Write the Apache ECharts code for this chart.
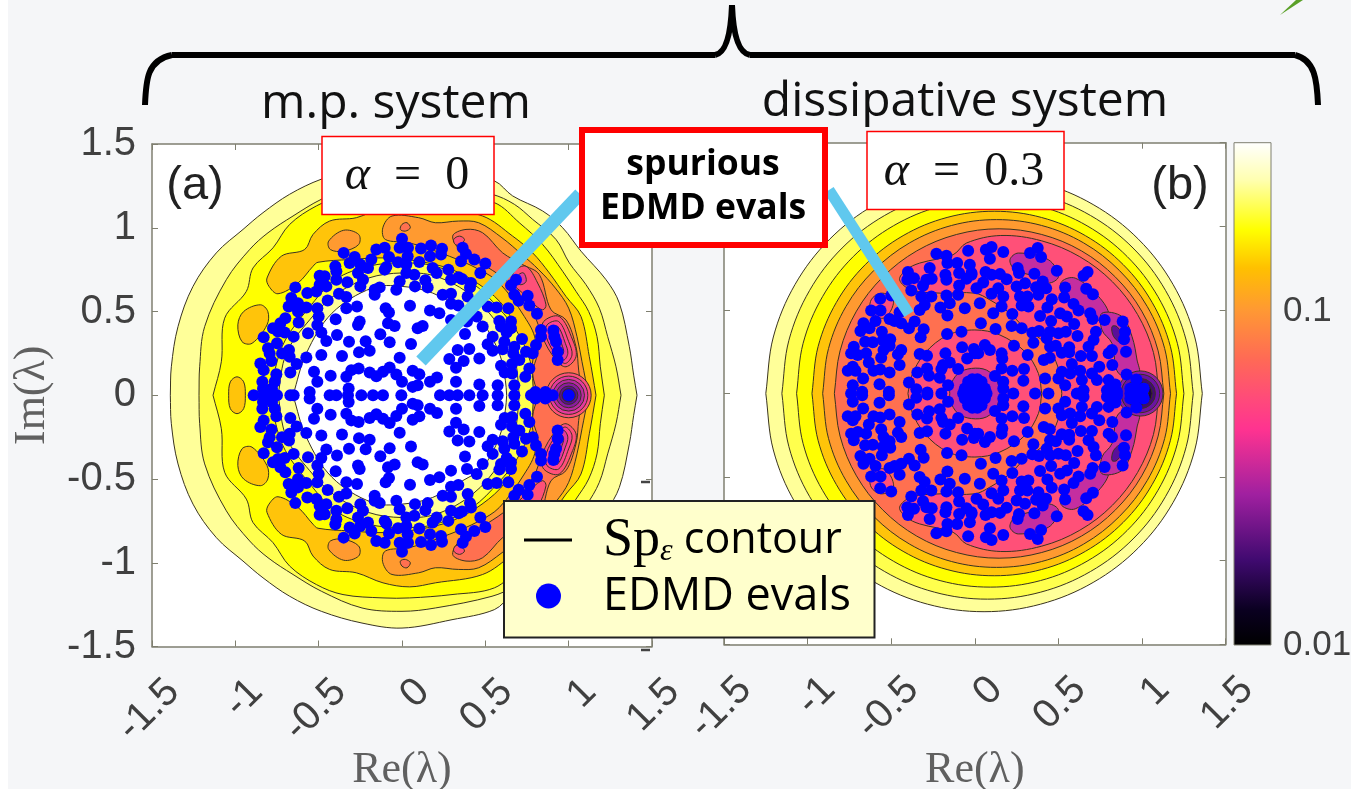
<!DOCTYPE html>
<html><head><meta charset="utf-8">
<style>html,body{margin:0;padding:0;background:linear-gradient(90deg,#fff 8px,#f5f6f8 8px);}#c{width:1351px;height:789px}</style>
<script src="https://cdn.jsdelivr.net/npm/echarts@6/dist/echarts.min.js"></script>
</head><body><div id="c"></div>
<script>
// ---------- tick labels ----------
const xTicks = [-1.5,-1,-0.5,0,0.5,1,1.5];
const colorbarTicks = [0.01,0.1];
const panelLabels = ['(a)','(b)'];
const legendLabels = ['Sp_ε contour','EDMD evals'];

// ---------- upper-half EDMD eigenvalues (conjugate pairs are added below) ----------
const evalsA = [[-.35,.85],[-.284,.826],[-.314,.79],[-.25,.78],[-.4,.77],[-.204,.76],[-.264,.73],[-.494,.714],[-.464,.71],[-.394,.74],[-.394,.69],[-.328,.674],[-.234,.69],[-.25,.65],[-.64,.644],[-.454,.65],[-.494,.66],[-.514,.62],[-.568,.61],[-.664,.58],[-.624,.55],[-.574,.524],[-.68,.53],[-.624,.5],[-.508,.52],[-.5,.47],[-.508,.42],[-.484,.374],[-.564,.37],[-.62,.434],[-.7,.46],[-.73,.43],[-.774,.4],[-.744,.38],[-.704,.374],[-.65,.35],[-.83,.346],[-.75,.31],[-.804,.28],[-.794,.25],[-.678,.27],[-.72,.25],[-.674,.23],[-.784,.204],[-.85,.19],[-.83,.15],[-.632,.186],[-.67,.136],[-.754,.126],[-.764,.08],[-.838,.08],[-.834,.04],[-.78,.04],[-.75,0],[-.79,0],[-.83,0],[-.89,0],[-.67,0],[-.65,0],
[-.378,.606],[-.334,.586],[-.446,.566],[-.334,.52],[-.27,.53],[-.398,.454],[-.254,.44],[-.264,.42],[-.39,.36],[-.318,.32],[-.454,.324],[-.218,.322],[-.13,.364],[-.098,.52],[-.078,.494],[-.084,.43],[-.044,.414],[-.074,.316],[-.258,.256],[-.194,.266],[-.014,.224],[-.574,.226],[-.484,.24],[-.36,.234],[-.528,.14],[-.508,.08],[-.428,.116],[-.334,.11],[-.304,.15],[-.26,.16],[-.194,.136],[-.154,.114],[-.114,.14],[-.074,.166],[-.034,.124],[0,.08],[-.32,.04],[-.554,.02],[-.434,0],[-.394,0],[-.324,0],[-.244,0],[-.174,0],[-.114,0],[-.004,0],
[-.154,.87],[-.104,.88],[0,.934],[-.014,.88],[.036,.88],[-.078,.826],[-.184,.81],[-.024,.794],[.026,.78],[-.094,.766],[-.104,.75],[.026,.73],[-.014,.68],[-.134,.644],[-.164,.63],[-.164,.6],[-.034,.63],
[.114,.876],[.174,.894],[.24,.874],[.234,.84],[.168,.83],[.034,.83],[.104,.796],[.364,.88],[.384,.844],[.354,.8],[.434,.81],[.5,.786],[.278,.75],[.184,.76],[.208,.73],[.47,.73],[.074,.72],[.294,.69],[.34,.704],[.36,.694],[.414,.67],[.408,.644],[.14,.686],[.154,.644],[.078,.65],[.684,.69],[.654,.656],[.674,.6],[.7,.564],[.754,.594],[.764,.536],[.81,.486],[.244,.6],[.294,.606],[.294,.546],[.338,.536],[.394,.59],[.514,.53],[.568,.524],[.638,.52],[.048,.534],[.168,.506],[.224,.49],[.448,.47],[.484,.41],[.39,.44],[.294,.45],[.124,.414],[.094,.4],[.584,.444],[.654,.44],[.594,.41],[.654,.4],[.628,.374],[.378,.366],[.544,.35],[.72,.336],[.834,.39],[.834,.35],[.908,.386],[.914,.35],[.924,.32],[.934,.26],[.934,.21],[.804,.3],[.784,.25],[.744,.26],[.614,.32],[.674,.29],[.604,.274],[.668,.25],[.704,.21],[.66,.186],[.764,.16],[.74,.11],[.594,.176],[.616,.136],[.66,.13],[.674,.06],[.574,.06],[.514,.304],[.544,.266],[.054,.306],[.404,.276],[.334,.27],[.284,.216],[.37,.204],[.324,.164],[.464,.22],[.064,.146],[.104,.126],[.21,.106],[.168,.08],[.324,.08],[.464,.064],[.064,.05],[.094,.06],[.228,0],[.284,0],[.334,0],[.404,0],[.484,0],[.574,0],[.674,0],[.774,0],[.834,0],[.904,0],[1,0],[.8,.02],[.86,.02]];

const evalsB = [[-.23,.836],[-.17,.824],[-.164,.78],[-.106,.78],[-.04,.854],[-.03,.77],[-.27,.75],[-.4,.726],[-.364,.69],[-.404,.68],[-.29,.68],[-.258,.686],[-.31,.644],[-.176,.71],[-.17,.68],[-.094,.72],[-.02,.72],[-.05,.686],[-.094,.646],[.01,.63],[-.1,.59],[-.17,.586],[-.38,.616],[-.566,.566],[-.5,.586],[-.62,.496],[-.564,.496],[-.32,.58],[-.26,.58],[-.3,.53],[-.33,.5],[-.15,.54],[-.206,.514],[-.06,.51],[-.164,.466],[-.45,.486],[-.51,.446],[-.48,.434],[-.44,.42],[-.36,.43],[-.394,.39],[-.306,.384],[-.324,.336],[-.666,.42],[-.594,.434],[-.684,.374],[-.63,.39],[-.556,.37],[-.55,.32],[-.506,.324],[-.656,.31],[-.61,.306],[-.51,.286],[-.166,.356],[-.08,.37],[-.44,.26],[-.46,.234],[-.546,.26],[-.56,.214],[-.724,.28],[-.74,.24],[-.7,.23],[-.65,.24],[-.634,.186],[-.33,.236],[-.286,.226],[-.176,.24],[-.076,.276],[-.006,.266],[-.046,.21],[-.15,.186],[-.2,.146],[-.19,.17],[-.1,.146],[-.45,.17],[-.73,.16],[-.76,.136],[-.714,.136],[-.606,.136],[-.566,.144],[-.51,.126],[-.344,.126],[-.286,.15],[-.274,.106],[-.21,.094],[-.668,.09],[-.394,.066],[-.73,.05],[-.57,.056],[-.674,.01],[-.74,0],[-.514,.01],[-.35,.026],[-.284,.006],[-.16,.05],[-.2,0],
[.066,.86],[.1,.876],[.17,.846],[.09,.806],[.33,.84],[.376,.87],[.396,.816],[.256,.75],[.264,.72],[.356,.716],[.49,.734],[.65,.704],[.674,.726],[.064,.726],[.1,.71],[.15,.714],[.19,.684],[-.02,.71],[.05,.664],[.3,.66],[.25,.64],[.406,.67],[.426,.63],[.366,.636],[.38,.59],[.54,.634],[.666,.626],[.706,.594],[.534,.574],[.14,.63],[.1,.596],[.17,.58],[.03,.54],[.16,.52],[.27,.58],[.314,.58],[.28,.526],[.32,.52],[.46,.564],[.434,.514],[.59,.536],[.62,.496],[.69,.48],[.704,.446],[.776,.44],[.884,.43],[.898,.37],[.892,.324],[.224,.476],[.11,.48],[.39,.464],[.51,.48],[.55,.46],[.456,.434],[.036,.42],[.124,.386],[.22,.404],[.28,.39],[.384,.374],[.344,.364],[.45,.37],[.5,.36],[.544,.37],[.594,.416],[.614,.344],[.724,.37],[.71,.32],[.68,.28],[.43,.33],[.45,.28],[.484,.286],[.35,.304],[.234,.286],[.06,.29],[.09,.26],[0,.24],[.02,.24],[.16,.24],[.164,.21],[.316,.23],[.52,.244],[.564,.276],[.564,.246],[.634,.224],[.7,.224],[.82,.26],[.8,.24],[.904,.25],[.412,.2],[.448,.214],[.58,.176],[.822,.17],[.744,.16],[.7,.12],[.63,.136],[.907,.114],[.966,.084],[.16,.15],[.224,.136],[.294,.146],[.12,.104],[.17,.07],[.29,.076],[.42,.09],[.5,.09],[.52,.13],[.54,.05],[.57,.12],[.64,.08],[.73,.08],[.8,.08],[.84,.054],[.17,.03],[.23,0],[.36,0],[.44,0],[.61,0],[.65,.02],[.79,.02],[.85,.01],[.93,.03],[.93,0],[1,0],[.96,.03],[1.01,.03],
[0,0],[.02,.02],[-.02,.02],[.04,.03],[-.04,.03],[.05,.01],[-.05,.01],[.03,.05],[-.03,.05],[0,.06],[.06,.03],[-.06,.03],[.04,.07],[-.04,.07],[.07,0],[-.07,0],[.015,.085],[-.015,.085]];

// ---------- contour outlines of panel (a), upper half, right to left ----------
const a1 = [[1.41,0],[1.39,.12],[1.364,.29],[1.304,.55],[1.224,.69],[1.074,.86],[.964,1],[.844,1.1],[.664,1.19],[.554,1.28],[.3,1.34],[0,1.39],[-.24,1.36],[-.484,1.29],[-.674,1.2],[-.834,1.09],[-.954,.99],[-1.114,.85],[-1.254,.65],[-1.344,.41],[-1.384,.17],[-1.39,0]];
const a2 = [[1.314,0],[1.284,.17],[1.234,.35],[1.184,.52],[1.104,.66],[1.004,.79],[.924,.93],[.784,1.05],[.674,1.14],[.54,1.2],[.2,1.27],[0,1.29],[-.24,1.27],[-.484,1.17],[-.654,1.07],[-.804,.97],[-.914,.87],[-1.054,.69],[-1.184,.41],[-1.214,.17],[-1.218,0]];
const a3 = [[1.214,0],[1.19,.17],[1.17,.35],[1.12,.5],[1.044,.62],[.964,.74],[.844,.9],[.704,1.03],[.554,1.15],[.3,1.19],[.046,1.21],[-.114,1.21],[-.354,1.19],[-.514,1.13],[-.674,1.02],[-.774,.88],[-.894,.76],[-.934,.62],[-1.064,.46],[-1.084,.2],[-1.134,0]];
const a4 = [[1.164,0],[1.124,.23],[1.074,.47],[.984,.59],[.884,.73],[.784,.85],[.664,.95],[.484,1.07],[.2,1.12],[.046,1.144],[-.114,1.12],[-.274,1.06],[-.434,1.04],[-.534,.96],[-.584,.87],[-.724,.83],[-.81,.7],[-.798,.65],[-.744,.606],[-.624,.67],[-.534,.77],[-.504,.794],[-.314,.81],[-.1,.82],[.1,.8],[.3,.75],[.48,.65],[.62,.52],[.69,.37],[.74,.2],[.76,0]];
const a5 = [[1.12,0],[1.08,.2],[1.05,.35],[1,.52],[.92,.64],[.82,.75],[.72,.84],[.6,.94],[.46,1.03],[.34,1.04],[.2,1.03],[.1,1.06],[-.06,1.07],[-.115,1],[-.1,.93],[.044,.91],[.284,.83],[.464,.75],[.584,.67],[.734,.47],[.8,.33],[.78,.17],[.784,0]];
const a6 = [[1.08,0],[1.06,.15],[1.044,.29],[.984,.45],[.894,.51],[.824,.72],[.724,.78],[.604,.85],[.484,.97],[.384,.99],[.304,.95],[.364,.85],[.504,.77],[.644,.67],[.774,.51],[.824,.39],[.814,.25],[.784,.13],[.82,0]];
const a7 = [[.674,.74],[.744,.77],[.814,.67],[.864,.54],[.844,.51],[.784,.55],[.724,.61],[.664,.67]];
const a7b = [[.7,.72],[.73,.73],[.745,.68],[.71,.66],[.685,.69]];
const aLobe1 = [[.85,.44],[.944,.47],[1.024,.33],[1.044,.23],[.984,.17],[.924,.21],[.844,.35]];
const aLobe2 = [[.87,.42],[.94,.44],[1,.32],[1.02,.24],[.98,.19],[.93,.23],[.865,.35]];
const aLobe3 = [[.89,.4],[.935,.41],[.98,.31],[.995,.25],[.97,.21],[.935,.25],[.885,.35]];
const aLobe4 = [[.905,.38],[.93,.38],[.96,.3],[.97,.26],[.955,.235],[.935,.27],[.9,.34]];
const aLobe5 = [[.915,.36],[.93,.355],[.945,.3],[.95,.27],[.94,.26],[.925,.29]];
const aBlob1 = [[-.99,.11],[-.95,.08],[-.94,.0],[-.95,-.08],[-.99,-.11],[-1.03,-.08],[-1.04,0],[-1.03,.08]];
const aBlob2 = [[-.95,.5],[-.85,.54],[-.805,.5],[-.81,.42],[-.9,.31],[-.96,.32],[-.985,.42]];
const aBlob3 = [[-.44,.92],[-.35,.985],[-.26,.96],[-.26,.9],[-.35,.86],[-.43,.87]];
const aBlob4 = [[.0,1.02],[.03,1.03],[.05,1],[.02,.98],[-.01,.99]];
const aBlob5 = [[.31,.93],[.345,.95],[.375,.93],[.35,.9],[.32,.9]];
const aDisc1 = [[.79,0],[.77,.2],[.69,.38],[.58,.52],[.42,.67],[.2,.77],[0,.79],[-.2,.77],[-.4,.69],[-.56,.52],[-.7,.33],[-.76,.16],[-.78,0]];
const aDisc2 = [[.704,0],[.674,.23],[.584,.41],[.424,.59],[.204,.71],[0,.73],[-.2,.7],[-.4,.6],[-.554,.45],[-.694,.25],[-.744,0]];
const aDisc3 = [[.628,0],[.62,.09],[.584,.25],[.484,.43],[.364,.51],[.184,.61],[0,.65],[-.18,.64],[-.42,.49],[-.574,.25],[-.654,0]];
const aPitRadii = [.135,.115,.095,.075,.055,.04,.025,.012];

// ---------- contour outlines of panel (b) ----------
const b1 = [[1.36,0],[1.315,.338],[1.185,.6525],[.978,.923],[.7075,1.13],[.393,1.26],[.055,1.305],[-.283,1.26],[-.5975,1.13],[-.868,.923],[-1.075,.6525],[-1.205,.338],[-1.25,0]];
const b2 = [[1.306,0],[1.264,.318],[1.141,.615],[.946,.87],[.691,1.065],[.394,1.188],[.076,1.23],[-.242,1.188],[-.539,1.065],[-.794,.87],[-.989,.615],[-1.112,.318],[-1.154,0]];
const b3 = [[1.25,0],[1.211,.3],[1.095,.579],[.911,.819],[.671,1.003],[.392,1.119],[.092,1.158],[-.208,1.119],[-.487,1.003],[-.727,.819],[-.911,.579],[-1.027,.3],[-1.066,0]];
const b4 = [[1.206,0],[1.169,.282],[1.06,.545],[.887,.771],[.661,.944],[.398,1.053],[.116,1.09],[-.166,1.053],[-.429,.944],[-.655,.771],[-.828,.545],[-.937,.282],[-.974,0]];
const b5 = [[1.17,0],[1.135,.269],[1.031,.52],[.865,.735],[.65,.901],[.399,1.005],[.13,1.04],[-.139,1.005],[-.39,.901],[-.605,.735],[-.771,.52],[-.875,.269],[-.91,0]];
const b6 = [[1.13,0],[1.096,.255],[.998,.4925],[.841,.696],[.6375,.853],[.4,.951],[.145,.985],[-.11,.951],[-.3475,.853],[-.551,.696],[-.708,.4925],[-.806,.255],[-.84,0]];
const b7 = [[1.1,0],[1.068,.245],[.973,.4725],[.823,.668],[.6275,.818],[.4,.913],[.155,.945],[-.05,.9],[-.13,.83],[-.33,.78],[-.41,.74],[-.45,.68],[-.38,.62],[-.2,.6],[0,.6],[.09,.56],[.21,.48],[.29,.4],[.42,.3],[.5,.15],[.52,0]];
const bLeftLobe = [[-.62,.56],[-.56,.6],[-.49,.57],[-.5,.5],[-.55,.45],[-.62,.48]];
const bLobeA = [[.21,.8],[.26,.84],[.44,.8],[.5,.7],[.44,.66],[.36,.7],[.24,.74]];
const bLobeB = [[.52,.67],[.6,.69],[.74,.58],[.8,.47],[.72,.44],[.6,.54],[.52,.6]];
const bLobeC = [[.76,.48],[.88,.46],[.94,.34],[.97,.2],[.98,.12],[.86,.12],[.82,.3],[.76,.38]];
const bLobeD = [[.82,.4],[.85,.4],[.9,.32],[.88,.3],[.83,.34]];
const bDisc1 = [[.4,0],[.38,.12],[.3,.25],[.15,.35],[0,.38],[-.16,.35],[-.3,.24],[-.38,.1],[-.4,0]];
const bDisc2 = [[.15,0],[.13,.08],[.07,.14],[-.02,.15],[-.1,.12],[-.15,.04],[-.15,0]];
const bDisc3 = [[.09,0],[.07,.06],[0,.09],[-.07,.06],[-.09,0]];
const bPitRadii = [.135,.115,.09,.07,.05,.035,.02];

// ---------- colours ----------
const bandColors = {pale:'#ffff99',mid:'#ffff4d',yellow:'#ffff00',amber:'#ffc40a',orange:'#ff9a30',coral:'#ff7050',rose:'#ff5078',pink:'#ff4490',magenta:'#e43a9e',violet:'#c42ea0',purple:'#9020a0',indigo:'#5a0f9a'};
const pitColors = ['#ff5078','#e43a9e','#b82aa0','#8a1ca0','#5a0f90','#3a0a70','#1a0040','#000000'];
const pitColorsB = ['#9020a0','#6a14a0','#400a70','#200040','#0a0020','#000000','#000000'];
const lineColor = '#3a3420';

const mirrored = u => u.concat(u.slice().reverse().map(p=>[p[0],-p[1]]));
const lower = u => u.map(p=>[p[0],-p[1]]);
const withConj = e => e.concat(e.filter(p=>p[1]>0.005).map(p=>[p[0],-p[1]]));

const contoursA = [
  [mirrored(a1),bandColors.pale],[mirrored(a2),bandColors.mid],[mirrored(a3),bandColors.yellow],
  [mirrored(a4),bandColors.amber],[mirrored(a5),bandColors.orange],[mirrored(a6),bandColors.coral],
  [a7,bandColors.rose],[lower(a7),bandColors.rose],[a7b,bandColors.magenta],[lower(a7b),bandColors.magenta],
  [aBlob1,bandColors.amber],[aBlob2,bandColors.amber],[lower(aBlob2),bandColors.amber],
  [aBlob3,bandColors.orange],[lower(aBlob3),bandColors.orange],[aBlob4,bandColors.coral],[lower(aBlob4),bandColors.coral],[aBlob5,bandColors.rose],[lower(aBlob5),bandColors.rose],
  [aLobe1,bandColors.rose],[lower(aLobe1),bandColors.rose],[aLobe2,bandColors.pink],[lower(aLobe2),bandColors.pink],[aLobe3,bandColors.magenta],[lower(aLobe3),bandColors.magenta],[aLobe4,bandColors.violet],[lower(aLobe4),bandColors.violet],[aLobe5,bandColors.purple],[lower(aLobe5),bandColors.purple],
  [mirrored(aDisc1),bandColors.mid],[mirrored(aDisc2),bandColors.pale],[mirrored(aDisc3),'#ffffff']
];
const contoursB = [
  [mirrored(b1),bandColors.pale],[mirrored(b2),bandColors.mid],[mirrored(b3),bandColors.yellow],[mirrored(b4),bandColors.amber],[mirrored(b5),bandColors.orange],[mirrored(b6),bandColors.coral],
  [mirrored(b7),bandColors.rose],[bLeftLobe,bandColors.rose],[lower(bLeftLobe),bandColors.rose],
  [bLobeA,bandColors.violet],[lower(bLobeA),bandColors.violet],[bLobeB,bandColors.violet],[lower(bLobeB),bandColors.violet],[bLobeC,bandColors.violet],[lower(bLobeC),bandColors.violet],[bLobeD,bandColors.indigo],[lower(bLobeD),bandColors.indigo],
  [mirrored(bDisc1),bandColors.rose],[mirrored(bDisc2),bandColors.violet],[mirrored(bDisc3),bandColors.indigo]
];

function contourSeries(list,name,xi,yi){
  return {type:'custom',name,xAxisIndex:xi,yAxisIndex:yi,silent:true,clip:true,z:2,
    data:list.map((c,i)=>[0,0,i]),encode:{x:0,y:1},
    renderItem:(p,api)=>{
      const c=list[api.value(2)];
      return {type:'polygon',shape:{points:c[0].map(q=>api.coord(q)),smooth:0.35},style:{fill:c[1],stroke:lineColor,lineWidth:1}};
    }};
}
function pitSeries(radii,cols,cx,xi,yi){
  return {type:'custom',xAxisIndex:xi,yAxisIndex:yi,silent:true,z:3,
    data:radii.map((r,i)=>[cx,0,r,i]),encode:{x:0,y:1},
    renderItem:(p,api)=>{
      const c=api.coord([api.value(0),api.value(1)]);
      return {type:'circle',shape:{cx:c[0],cy:c[1],r:api.size([api.value(2),0])[0]},style:{fill:cols[api.value(3)],stroke:lineColor,lineWidth:1}};
    }};
}
const axisStyle={lineStyle:{color:'#7f7f70',width:1.5}};
const tickStyle={show:true,inside:true,length:6,lineStyle:{color:'#7f7f70',width:1}};
const labFont='"Liberation Sans",Arial,sans-serif';
function xAx(g,pos,lab,gap){return {type:'value',gridIndex:g,position:pos,min:-1.5,max:1.5,interval:.5,splitLine:{show:false},axisLine:{onZero:false,...axisStyle},axisTick:tickStyle,
  axisLabel:lab?{show:true,rotate:45,fontSize:40,color:'#404040',fontFamily:labFont,margin:18,verticalAlign:'top',padding:[10,0,0,0],formatter:v=>String(v),showMinLabel:true,showMaxLabel:true,hideOverlap:false}:{show:false},
  name:lab?'Re(λ)':'',nameLocation:'middle',nameGap:gap,nameMoveOverlap:false,nameTextStyle:{fontFamily:'"Liberation Serif",serif',fontSize:44,color:'#606060'}};}
function yAx(g,pos,lab){return {type:'value',gridIndex:g,position:pos,min:-1.5,max:1.5,interval:.5,splitLine:{show:false},axisLine:{onZero:false,...axisStyle},axisTick:tickStyle,
  axisLabel:lab?{show:true,fontSize:40,color:'#404040',fontFamily:labFont,margin:16,formatter:v=>String(v),showMinLabel:true,showMaxLabel:true}:{show:false},
  name:lab?'Im(λ)':'',nameLocation:'middle',nameGap:98,nameMoveOverlap:false,nameTextStyle:{fontFamily:'"Liberation Serif",serif',fontSize:44,color:'#606060'}};}

const cbStops=[[0,'#ffffff'],[.075,'#ffffb0'],[.174,'#ffff00'],[.25,'#ffc000'],[.333,'#ff9933'],[.43,'#ff6a55'],[.51,'#ff4a7a'],[.57,'#ff3390'],[.7,'#a020a0'],[.83,'#400a70'],[.93,'#0a0020'],[1,'#000000']];

const g=[];
const T=(t,x,y,size,extra)=>g.push({type:'text',z:100,style:Object.assign({text:t,x,y,fontSize:size,fill:'#111',textAlign:'center',textVerticalAlign:'middle',fontFamily:'"Open Sans",sans-serif'},extra||{})});
const R=(x,y,w,h,fill,stroke,lw)=>g.push({type:'rect',z:100,shape:{x,y,width:w,height:h},style:{fill,stroke,lineWidth:lw}});
const L=(a,b,c,d,col,w)=>g.push({type:'line',z:99,shape:{x1:a,y1:b,x2:c,y2:d},style:{stroke:col,lineWidth:w}});
const BZ=(x1,y1,c1x,c1y,c2x,c2y,x2,y2)=>g.push({type:'bezierCurve',z:100,shape:{x1,y1,x2,y2,cpx1:c1x,cpy1:c1y,cpx2:c2x,cpy2:c2y},style:{fill:'none',stroke:'#000',lineWidth:6}});
// brace
BZ(145,105,146,80,147,60,172,55);L(172,55,715,55,'#000',6);BZ(715,55,727,53,731,30,732,5);BZ(732,5,733,30,737,53,750,55);L(750,55,1295,55,'#000',6);BZ(1295,55,1315,60,1317,80,1318,105);
g.push({type:'polygon',z:100,shape:{points:[[1280,15],[1296,0],[1303,0]]},style:{fill:'#5aa028'}});
T('m.p. system',396,104,48);
T('dissipative system',965,102,48);
T(panelLabels[0],195,186,47,{fill:'#222',fontFamily:labFont});
T(panelLabels[1],1180,186,47,{fill:'#222',fontFamily:labFont});
L(580,194,421,361,'#60c8ee',13);
L(829,190,909,314,'#60c8ee',11);
R(322,136.5,172,78,'#fff','#f00',1.5);
R(867,131.5,197,78,'#fff','#f00',1.5);
R(582,130,243,115,'#fff','#f00',6);
const aRich={i:{fontFamily:'"Liberation Serif",serif',fontStyle:'italic',fontSize:48,fill:'#111'},n:{fontFamily:'"Liberation Serif",serif',fontSize:48,fill:'#111'}};
T('{i|α}{n|  =  0}',407,176,48,{rich:aRich});
T('{i|α}{n|  =  0.3}',964,172,48,{rich:aRich});
T('spurious',703,165,35.5,{fontWeight:'bold',fill:'#000'});
T('EDMD evals',703,209,35.5,{fontWeight:'bold',fill:'#000'});
// legend
R(504,501,370.5,136.5,'#ffffcc','#222',2);
L(524,540,572,540,'#000',3);g[g.length-1].z=101;
g.push({type:'circle',z:101,shape:{cx:548.5,cy:596,r:12.5},style:{fill:'#0000ff'}});
g.push({type:'text',z:101,style:{text:'{s|Sp}{e|ε}{c| contour}',x:603,y:541,textVerticalAlign:'middle',rich:{s:{fontFamily:'"Liberation Serif",serif',fontSize:54,fill:'#000'},e:{fontFamily:'"Liberation Serif",serif',fontStyle:'italic',fontSize:32,fill:'#000',verticalAlign:'bottom'},c:{fontFamily:'"Open Sans",sans-serif',fontSize:43,fill:'#000'}}}});
g.push({type:'text',z:101,style:{text:'EDMD evals',x:603,y:597,textVerticalAlign:'middle',fontFamily:'"Open Sans",sans-serif',fontSize:45,fill:'#000'}});
// stray minus marks at the panel edge
L(641,482,650,482,'#444',2.5);
L(641,650,650,650,'#444',2.5);

const option={animation:false,backgroundColor:'transparent',textStyle:{fontFamily:labFont},
 grid:[
  {left:152,top:144,width:500,height:502.5,show:true,backgroundColor:'#fff',borderWidth:0,outerBoundsMode:'none'},
  {left:724,top:142.7,width:501.7,height:501.6,show:true,backgroundColor:'#fff',borderWidth:0,outerBoundsMode:'none'},
  {left:1234,top:142.7,width:37,height:502.3,show:false,outerBoundsMode:'none'}
 ],
 xAxis:[xAx(0,'bottom',true,102),xAx(0,'top',false,0),xAx(1,'bottom',true,104),xAx(1,'top',false,0),
  {type:'value',gridIndex:2,min:0,max:1,show:false}],
 yAxis:[yAx(0,'left',true),yAx(0,'right',false),yAx(1,'left',false),yAx(1,'right',false),
  {type:'log',logBase:10,gridIndex:2,position:'right',min:colorbarTicks[0],max:0.319,splitLine:{show:false},axisLine:{show:false},axisTick:{show:false},minorTick:{show:false},
   axisLabel:{fontSize:35,color:'#404040',fontFamily:labFont,margin:12,showMinLabel:true,showMaxLabel:false,formatter:v=>(Math.abs(v-0.01)<1e-6||Math.abs(v-0.1)<1e-6)?String(+v.toFixed(2)):''}}],
 series:[
  contourSeries(contoursA,'Sp_ε contour',0,0),
  pitSeries(aPitRadii,pitColors,1,0,0),
  {type:'scatter',name:'EDMD evals',xAxisIndex:0,yAxisIndex:0,symbolSize:12,z:5,silent:true,itemStyle:{color:'#0000ff',opacity:1},data:withConj(evalsA)},
  contourSeries(contoursB,'Sp_ε contour',2,2),
  pitSeries(bPitRadii,pitColorsB,.99,2,2),
  {type:'scatter',name:'EDMD evals',xAxisIndex:2,yAxisIndex:2,symbolSize:12,z:5,silent:true,itemStyle:{color:'#0000ff',opacity:1},data:withConj(evalsB)},
  {type:'custom',xAxisIndex:4,yAxisIndex:4,silent:true,data:[[0,colorbarTicks[0]],[1,0.319]],encode:{x:0,y:1},
   renderItem:(p,api)=>{ if(p.dataIndex)return null;
     const a=api.coord([0,0.319]),b=api.coord([1,0.01]);
     return {type:'rect',shape:{x:a[0],y:a[1],width:b[0]-a[0],height:b[1]-a[1]},
      style:{fill:new echarts.graphic.LinearGradient(0,0,0,1,cbStops.map(s=>({offset:s[0],color:s[1]}))),stroke:'#7f7f70',lineWidth:1}};}}
 ],
 graphic:{elements:g}
};
echarts.init(document.getElementById('c'),null,{renderer:'canvas'}).setOption(option);
</script></body></html>
